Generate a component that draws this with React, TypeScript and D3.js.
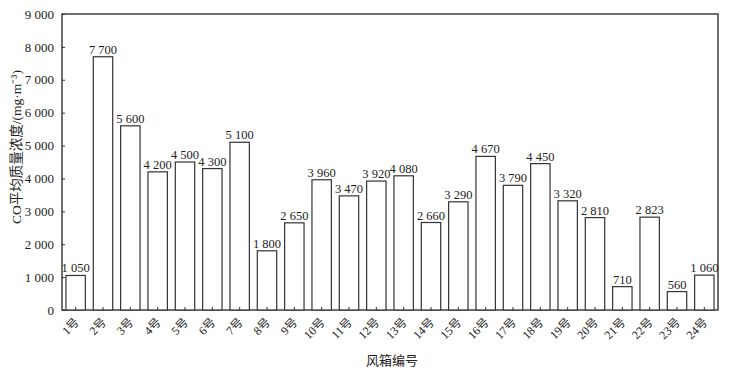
import { useEffect, useRef } from 'react';
import * as d3 from 'd3';

const categories = [
  '1号', '2号', '3号', '4号', '5号', '6号', '7号', '8号', '9号', '10号', '11号', '12号',
  '13号', '14号', '15号', '16号', '17号', '18号', '19号', '20号', '21号', '22号', '23号', '24号',
];
const coValues = [
  1050, 7700, 5600, 4200, 4500, 4300, 5100, 1800, 2650, 3960, 3470, 3920,
  4080, 2660, 3290, 4670, 3790, 4450, 3320, 2810, 710, 2823, 560, 1060,
];
const yTicks = [0, 1000, 2000, 3000, 4000, 5000, 6000, 7000, 8000, 9000];

export default function App() {
  const svgRef = useRef<SVGSVGElement | null>(null);

  useEffect(() => {
    const svg = svgRef.current;
    if (!svg) return;

    const width = 741;
    const height = 372;
    const margin = { top: 14, right: 23, bottom: 62, left: 62 };
    const font = "'Liberation Serif', 'Noto Sans CJK SC', serif";

    const fmt = d3.formatLocale({
      decimal: '.',
      thousands: ' ',
      grouping: [3],
      currency: ['', ''],
    }).format(',');

    const x = d3
      .scaleBand<string>()
      .domain(categories)
      .range([margin.left, width - margin.right])
      .paddingInner(0.29)
      .paddingOuter(0.145);

    const y = d3
      .scaleLinear()
      .domain([0, 9000])
      .range([height - margin.bottom, margin.top]);

    const root = d3.select(svg);
    root.selectAll('*').remove();
    root.attr('viewBox', `0 0 ${width} ${height}`);

    root.append('rect').attr('width', width).attr('height', height).attr('fill', '#fff');

    // frame
    root
      .append('rect')
      .attr('x', margin.left)
      .attr('y', margin.top)
      .attr('width', width - margin.left - margin.right)
      .attr('height', height - margin.top - margin.bottom)
      .attr('fill', 'none')
      .attr('stroke', '#333')
      .attr('stroke-width', 1.4);

    // bars
    root
      .append('g')
      .selectAll('rect')
      .data(coValues)
      .join('rect')
      .attr('x', (_, i) => x(categories[i])!)
      .attr('y', (d) => y(d))
      .attr('width', x.bandwidth())
      .attr('height', (d) => y(0) - y(d))
      .attr('fill', '#fff')
      .attr('stroke', '#333')
      .attr('stroke-width', 1.2);

    // bar labels
    root
      .append('g')
      .selectAll('text')
      .data(coValues)
      .join('text')
      .attr('x', (_, i) => x(categories[i])! + x.bandwidth() / 2)
      .attr('y', (d) => y(d) - 3)
      .attr('text-anchor', 'middle')
      .attr('font-family', font)
      .attr('font-size', 12.5)
      .attr('fill', '#222')
      .text((d) => fmt(d));

    // y axis
    root
      .append('g')
      .attr('transform', `translate(${margin.left},0)`)
      .call(d3.axisLeft(y).tickValues(yTicks).tickSize(-3).tickPadding(8).tickFormat((d) => fmt(d as number)))
      .call((g) => g.select('.domain').remove())
      .call((g) => g.selectAll('line').attr('stroke', '#333'))
      .call((g) => g.attr('font-family', font).attr('font-size', 13))
      .call((g) => g.selectAll('text').attr('fill', '#222'));

    // x axis
    root
      .append('g')
      .attr('transform', `translate(0,${height - margin.bottom})`)
      .call(d3.axisBottom(x).tickSize(-3).tickPadding(0))
      .call((g) => g.select('.domain').remove())
      .call((g) => g.selectAll('line').attr('stroke', '#333'))
      .call((g) => g.attr('font-family', font).attr('font-size', 12))
      .call((g) =>
        g
          .selectAll('text')
          .attr('fill', '#222')
          .attr('text-anchor', 'end')
          .attr('dy', 0)
          .attr('transform', 'translate(4,13) rotate(-45)')
      );

    // axis titles
    root
      .append('text')
      .attr('transform', 'translate(21,147) rotate(-90)')
      .attr('text-anchor', 'middle')
      .attr('font-family', font)
      .attr('font-size', 13.5)
      .attr('fill', '#222')
      .text('CO平均质量浓度/(mg·m⁻³)');

    root
      .append('text')
      .attr('x', 392)
      .attr('y', 365)
      .attr('text-anchor', 'middle')
      .attr('font-family', font)
      .attr('font-size', 13)
      .attr('fill', '#222')
      .text('风箱编号');
  }, []);

  return (
    <svg
      ref={svgRef}
      width={741}
      height={372}
      style={{ position: 'absolute', left: 0, top: 0, display: 'block' }}
    />
  );
}
